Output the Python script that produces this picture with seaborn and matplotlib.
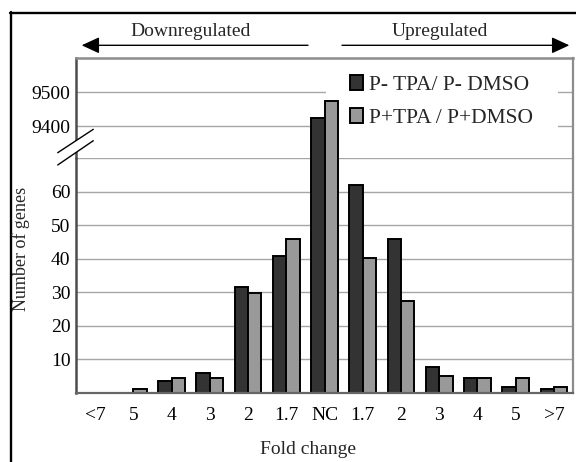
import matplotlib
matplotlib.use("Agg")
import matplotlib.pyplot as plt
import seaborn as sns
import pandas as pd
from matplotlib.patches import Patch, Rectangle, Polygon
from matplotlib.lines import Line2D

# ---- data ----
tick_labels = ["<7", "5", "4", "3", "2", "1.7", "NC", "1.7", "2", "3", "4", "5", ">7"]
series_names = ["P- TPA/ P- DMSO", "P+TPA / P+DMSO"]
dark_values = [0, 0, 3.7, 6.1, 31.7, 40.8, 9425, 62, 45.8, 7.7, 4.4, 1.9, 1.2]
light_values = [0, 1.1, 4.5, 4.4, 29.9, 45.9, 9475, 40.1, 27.3, 5.1, 4.4, 4.5, 1.8]
low_ticks = [10, 20, 30, 40, 50, 60, 70]
high_ticks = [9400, 9500]

W, H = 576, 462
sns.set_theme(style="white")
plt.rcParams["font.family"] = ["Liberation Serif", "DejaVu Serif"]

df = pd.DataFrame({
    "pos": list(range(len(tick_labels))) * 2,
    "series": [series_names[0]] * len(tick_labels) + [series_names[1]] * len(tick_labels),
    "value": dark_values + light_values,
})
colors = ["#333333", "#999999"]

fig = plt.figure(figsize=(W / 100, H / 100), dpi=100)
fig.patch.set_facecolor("white")

def fx(px):
    return px / W

def fy(py):
    return (H - py) / H

L, R = 76, 573
ax_lo = fig.add_axes([fx(L), fy(393), (R - L) / W, (393 - 158) / H])
ax_hi = fig.add_axes([fx(L), fy(158), (R - L) / W, (158 - 58) / H])

for ax in (ax_lo, ax_hi):
    sns.barplot(data=df, x="pos", y="value", hue="series", palette=colors,
                edgecolor="black", linewidth=1.4, width=0.7, saturation=1,
                errorbar=None, legend=False, ax=ax)
    ax.set_xlim(-0.5, len(tick_labels) - 0.5)
    ax.set_axisbelow(True)
    ax.yaxis.grid(True, color="#a6a6a6", lw=1.0)
    ax.xaxis.grid(False)
    ax.set_xlabel("")
    ax.set_ylabel("")
    ax.tick_params(axis="both", length=0, labelsize=14, colors="black")
    ax.tick_params(axis="y", pad=4)
    ax.spines["left"].set_color("#4d4d4d")
    ax.spines["left"].set_linewidth(1.8)
    ax.spines["right"].set_color("#8c8c8c")
    ax.spines["right"].set_linewidth(1.6)

ax_lo.set_ylim(0, 70)
ax_lo.set_yticks(low_ticks)
ax_lo.set_yticklabels([str(t) if t < 70 else "" for t in low_ticks])
ax_lo.set_xticks(range(len(tick_labels)))
ax_lo.set_xticklabels(tick_labels)
ax_lo.tick_params(axis="x", pad=10)
ax_lo.spines["top"].set_visible(False)
ax_lo.spines["bottom"].set_color("#666666")
ax_lo.spines["bottom"].set_linewidth(1.6)

ax_hi.set_ylim(9305, 9602)
ax_hi.set_yticks(high_ticks)
ax_hi.set_yticklabels([str(t) for t in high_ticks])
ax_hi.set_xticks([])
ax_hi.spines["bottom"].set_visible(False)
ax_hi.spines["top"].set_color("#8c8c8c")
ax_hi.spines["top"].set_linewidth(1.8)

# white legend box behind bars covering gridlines
ax_hi.add_patch(Rectangle(((326 - L) / (R - L), (158 - 140) / 100),
                          (558 - 326) / (R - L), (140 - 62) / 100,
                          transform=ax_hi.transAxes, facecolor="white",
                          edgecolor="none", zorder=0.8))
handles = [Patch(facecolor=c, edgecolor="black", lw=1.4) for c in colors]
fig.legend(handles, series_names, loc="upper left",
           bbox_to_anchor=(fx(350), fy(75)), bbox_transform=fig.transFigure,
           frameon=False, fontsize=15.5, borderpad=0, borderaxespad=0,
           handlelength=0.62, handleheight=0.66, handletextpad=0.25,
           labelspacing=0.62)

# axis labels
fig.text(fx(21.5), fy(249), "Number of genes", rotation=90, ha="center",
         va="center", fontsize=13)
fig.text(fx(308), fy(450), "Fold change", ha="center", va="center", fontsize=14)

# regulated headers with arrows
fig.text(fx(191), fy(36), "Downregulated", ha="center", va="baseline", fontsize=14)
fig.text(fx(440), fy(36), "Upregulated", ha="center", va="baseline", fontsize=14)
arrow_kw = dict(arrowstyle="-|>,head_length=0.54,head_width=0.25",
                mutation_scale=20, lw=1.0, color="black", shrinkA=0, shrinkB=0)
fig.add_artist(matplotlib.patches.FancyArrowPatch(
    (fx(308), fy(45.3)), (fx(81.7), fy(45.3)), transform=fig.transFigure, **arrow_kw))
fig.add_artist(matplotlib.patches.FancyArrowPatch(
    (fx(342), fy(45.3)), (fx(569.3), fy(45.3)), transform=fig.transFigure, **arrow_kw))

# axis break marks
fig.add_artist(Polygon([(fx(57.7), fy(152.7)), (fx(93.3), fy(129.3)),
                        (fx(93.3), fy(140.7)), (fx(57.7), fy(165))],
                       closed=True, transform=fig.transFigure,
                       facecolor="white", edgecolor="none"))
for (x0, y0, x1, y1) in [(57.7, 152.7, 93.3, 129.3), (57.7, 165, 93.3, 140.7)]:
    fig.add_artist(Line2D([fx(x0), fx(x1)], [fy(y0), fy(y1)],
                          transform=fig.transFigure, color="black", lw=1.0))

# outer frame (partly cropped)
fig.add_artist(Line2D([fx(10.7), fx(10.7)], [fy(12), -0.05],
                      transform=fig.transFigure, color="black", lw=1.7))
fig.add_artist(Line2D([fx(9.5), 1.05], [fy(13), fy(13)],
                      transform=fig.transFigure, color="black", lw=1.7))

fig.savefig("out.png", dpi=100, facecolor="white")
